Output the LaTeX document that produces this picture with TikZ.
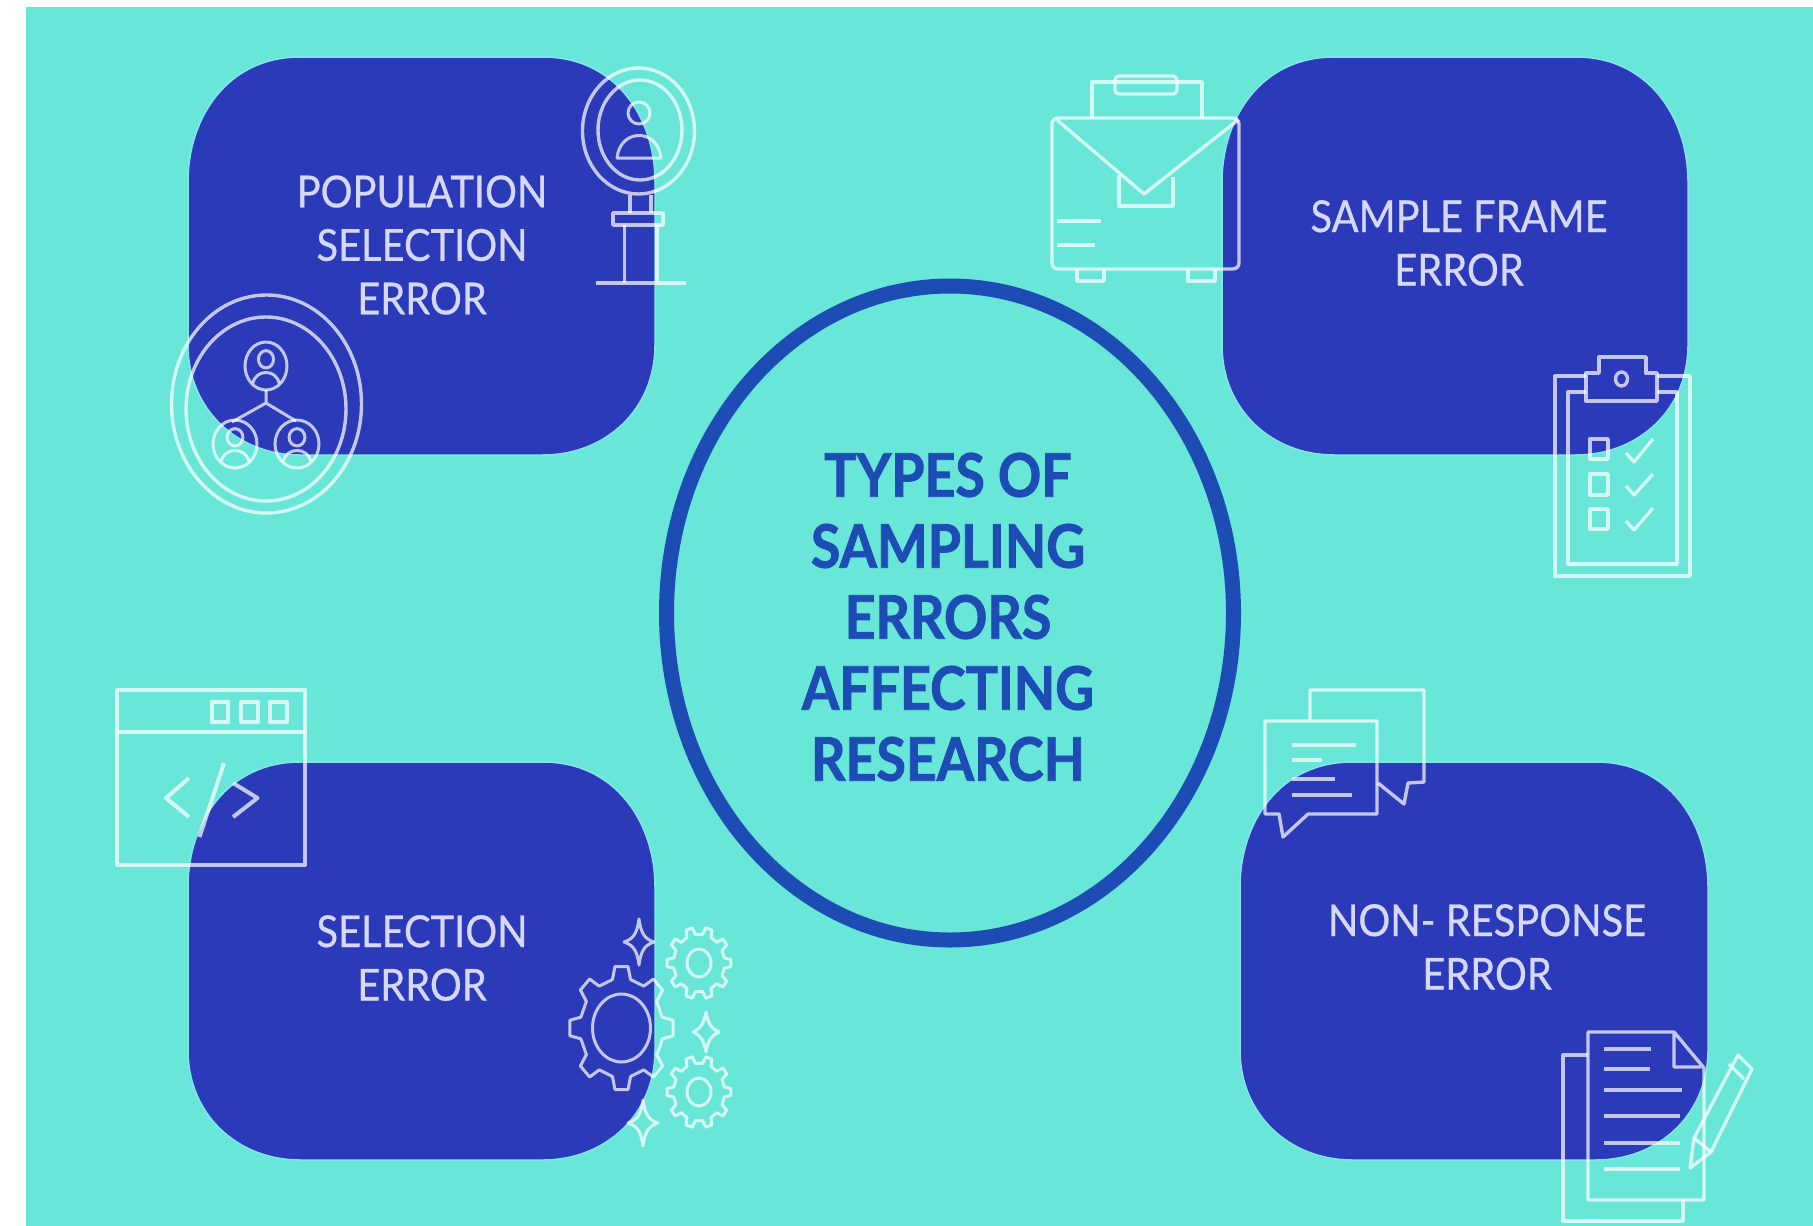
\documentclass[tikz,border=0pt]{standalone}
\usepackage{fontspec}
\usetikzlibrary{shapes.geometric}
\newfontfamily\lblfont[FakeStretch=0.905,FakeBold=0.6]{Lato}
\newfontfamily\ttlfont[FakeStretch=0.895,BoldFeatures={FakeBold=1.4}]{Lato}
\definecolor{bgteal}{HTML}{68E6D8}
\definecolor{blobblue}{HTML}{2A3AB8}
\definecolor{ringblue}{HTML}{1D4DB4}
\definecolor{halo}{HTML}{86E4EE}
\definecolor{lbltxt}{HTML}{D6D8FF}
\tikzset{
  blob/.style={fill=blobblue,draw=halo,line width=1.5pt},
  iconline/.style={draw=white,draw opacity=.72,line width=3.4pt,line join=round,fill=none},
  thinicon/.style={iconline,line width=3pt},
  lbl/.style={text=lbltxt,align=center,font=\lblfont\fontsize{44}{53.5}\selectfont,inner sep=0pt},
  ttl/.style={text=ringblue,align=center,font=\ttlfont\bfseries\fontsize{60}{71}\selectfont,inner sep=0pt},
}
\newcommand{\blobshape}[4]{% x0 y0 x1 y1
  \path[blob] (#1+112,#2) -- (#3-112,#2)
    .. controls (#3-40,#2) and (#3,#2+60) .. (#3,#2+125)
    -- (#3,#4-110)
    .. controls (#3,#4-45) and (#3-50,#4) .. (#3-112,#4)
    -- (#1+112,#4)
    .. controls (#1+50,#4) and (#1,#4-45) .. (#1,#4-110)
    -- (#1,#2+125)
    .. controls (#1,#2+60) and (#1+40,#2) .. (#1+112,#2) -- cycle;}
\newcommand{\gearicon}[5]{% cx cy rx ry teeth
  \draw[thinicon] ({#1+#3*.8*cos(180/#5)},{#2+#4*.8*sin(180/#5)})
   \foreach \k in {1,...,#5}{
    -- ({#1+#3*.8*cos((\k-.28)*360/#5)},{#2+#4*.8*sin((\k-.28)*360/#5)})
    -- ({#1+#3*cos((\k-.16)*360/#5)},{#2+#4*sin((\k-.16)*360/#5)})
    -- ({#1+#3*cos((\k+.16)*360/#5)},{#2+#4*sin((\k+.16)*360/#5)})
    -- ({#1+#3*.8*cos((\k+.28)*360/#5)},{#2+#4*.8*sin((\k+.28)*360/#5)})
   } -- cycle;}
\newcommand{\sparkle}[4]{% cx cy rx ry
  \draw[thinicon] (#1,#2-#4) .. controls (#1+2,#2-8) and (#1+6,#2-3) .. (#1+#3,#2)
    .. controls (#1+6,#2+3) and (#1+2,#2+8) .. (#1,#2+#4)
    .. controls (#1-2,#2+8) and (#1-6,#2+3) .. (#1-#3,#2)
    .. controls (#1-6,#2-3) and (#1-2,#2-8) .. (#1,#2-#4) -- cycle;}
\newcommand{\persona}[4]{% cx cy rx ry : person in a ring
  \draw[thinicon] (#1,#2) ellipse [x radius=#3,y radius=#4];
  \draw[thinicon] (#1,#2-.28*#4) ellipse [x radius=.36*#3,y radius=.36*#4];
  \draw[thinicon] (#1-.62*#3,#2+.72*#4) .. controls (#1-.5*#3,#2+.12*#4) and (#1+.5*#3,#2+.12*#4) .. (#1+.62*#3,#2+.72*#4);}
\begin{document}
\begin{tikzpicture}[x=1pt,y=-1pt]
\useasboundingbox (0,0) rectangle (1813,1226);
\fill[white] (0,0) rectangle (1813,1226);
\fill[bgteal] (26,7) rectangle (1813,1226);

% blobs
\blobshape{188}{57}{655}{455}
\blobshape{1222}{57}{1688}{455}
\blobshape{188}{762}{655}{1160}
\blobshape{1240}{762}{1708}{1160}

% central ring
\node[draw=ringblue,line width=15pt,ellipse,minimum width=567pt,minimum height=654pt,inner sep=0pt] (ring) at (950,613) {};

% labels
\node[ttl] (title) at (948,617) {TYPES OF\\SAMPLING\\ERRORS\\AFFECTING\\RESEARCH};
\node[lbl] (popsel) at (422,245) {POPULATION\\SELECTION\\ERROR};
\node[lbl] (frame) at (1459,243) {SAMPLE FRAME\\ERROR};
\node[lbl] (sel) at (422,958) {SELECTION\\ERROR};
\node[lbl] (nonresp) at (1487,947) {NON- RESPONSE\\ERROR};

% magnifier with person
\draw[iconline] (638.5,131) ellipse [x radius=56,y radius=63];
\draw[iconline] (640,130) ellipse [x radius=42,y radius=50];
\draw[thinicon] (639,113) circle (11);
\draw[thinicon] (617,158) .. controls (620,128) and (658,128) .. (661,158) -- cycle;
\draw[iconline] (630,195) -- (630,213) (651,195) -- (651,213);
\draw[iconline] (613,213) rectangle (663,225);
\draw[iconline] (624.5,225) -- (624.5,283) (657,225) -- (657,283);
\draw[iconline] (596,283) -- (686,283);

% people network in a ring
\draw[iconline] (266.5,404) ellipse [x radius=95,y radius=109];
\draw[iconline] (266,409) ellipse [x radius=80,y radius=92];
\persona{266}{366}{21}{24}
\persona{235}{444}{22}{24}
\persona{297}{444}{22}{24}
\draw[thinicon] (266,390) -- (266,403) (232,422) -- (266,403) -- (296,421);

% envelope case
\draw[iconline,rounded corners=6pt] (1052,118) rectangle (1239,269);
\draw[iconline] (1057,120) -- (1144,194) -- (1238,120);
\draw[iconline] (1119,175) -- (1119,206) -- (1173,206) -- (1173,177);
\draw[iconline] (1092,118) -- (1092,82) -- (1202,82) -- (1202,118);
\draw[iconline,fill=none,rounded corners=4pt] (1115,76) rectangle (1177,94);
\draw[iconline] (1057,221) -- (1101,221) (1057,245) -- (1095,245);
\draw[iconline] (1077,269) -- (1077,281) -- (1104,281) -- (1104,269);
\draw[iconline] (1188,269) -- (1188,281) -- (1215,281) -- (1215,269);

% clipboard
\draw[iconline] (1586,376) -- (1555,376) -- (1555,576) -- (1690,576) -- (1690,376) -- (1657,376);
\draw[iconline] (1586,392) -- (1568,392) -- (1568,564) -- (1677,564) -- (1677,392) -- (1657,392);
\draw[iconline] (1586,401) -- (1586,373) -- (1599,373) -- (1599,357) -- (1646,357) -- (1646,373) -- (1657,373) -- (1657,401) -- cycle;
\draw[iconline] (1621.5,379) ellipse [x radius=6,y radius=7];
\draw[iconline] (1590,439) rectangle (1608,459);
\draw[iconline] (1590,474) rectangle (1608,495);
\draw[iconline] (1590,509) rectangle (1608,529);
\draw[iconline] (1626,453) -- (1634,462) -- (1653,439);
\draw[iconline] (1626,486) -- (1634,495) -- (1653,474);
\draw[iconline] (1626,521) -- (1634,530) -- (1653,508);

% code window
\draw[iconline,line width=4pt] (117,690) rectangle (305,865);
\draw[iconline] (117,732) -- (305,732);
\draw[iconline,line width=4pt] (212,702) rectangle (228,722);
\draw[iconline,line width=4pt] (241,702) rectangle (258,722);
\draw[iconline,line width=4pt] (270,702) rectangle (287,722);
\draw[iconline,line width=4pt] (189,778) -- (166,798) -- (189,817);
\draw[iconline,line width=4pt] (224,763) -- (199.5,837);
\draw[iconline,line width=4pt] (233,783) -- (257.5,798) -- (233,817);

% gears
\gearicon{621.5}{1028}{52}{62}{8}
\draw[thinicon] (621.5,1028) ellipse [x radius=29,y radius=34];
\gearicon{699}{963}{32}{36}{10}
\draw[thinicon] (699,963) ellipse [x radius=12,y radius=14];
\gearicon{699}{1092}{32}{36}{10}
\draw[thinicon] (699,1092) ellipse [x radius=12,y radius=14];
\sparkle{639}{942}{15}{23}
\sparkle{706}{1032}{13}{20}
\sparkle{643}{1123}{15}{23}

% chat bubbles
\draw[iconline] (1310,720) -- (1310,690) -- (1424,690) -- (1424,782) -- (1408,783) -- (1404,804) -- (1378,783);
\draw[iconline] (1265,721) -- (1377,721) -- (1377,814) -- (1308,814) -- (1283,837) -- (1279,814) -- (1265,814) -- cycle;
\draw[iconline] (1292,745) -- (1356,745) (1292,760) -- (1322,760) (1292,779) -- (1335,779) (1292,795) -- (1352,795);

% documents and pencil
\draw[iconline] (1674,1032) -- (1588,1032) -- (1588,1200) -- (1704,1200) -- (1704,1068) -- (1674,1032) -- (1674,1067) -- (1701,1067);
\draw[iconline] (1588,1055) -- (1563,1055) -- (1563,1221) -- (1683,1221) -- (1683,1200);
\draw[iconline,line width=4.5pt] (1604,1049) -- (1651,1049) (1604,1069) -- (1650,1069);
\draw[iconline] (1604,1090) -- (1682,1090) (1604,1116) -- (1680,1116) (1604,1143) -- (1680,1143) (1604,1169) -- (1680,1169);
\draw[iconline] (1738,1055) -- (1752,1069) -- (1711,1152) -- (1690,1168) -- (1694,1138) -- cycle;
\draw[iconline] (1729,1064) -- (1744,1079) (1694,1138) -- (1711,1152);
\end{tikzpicture}
\end{document}
